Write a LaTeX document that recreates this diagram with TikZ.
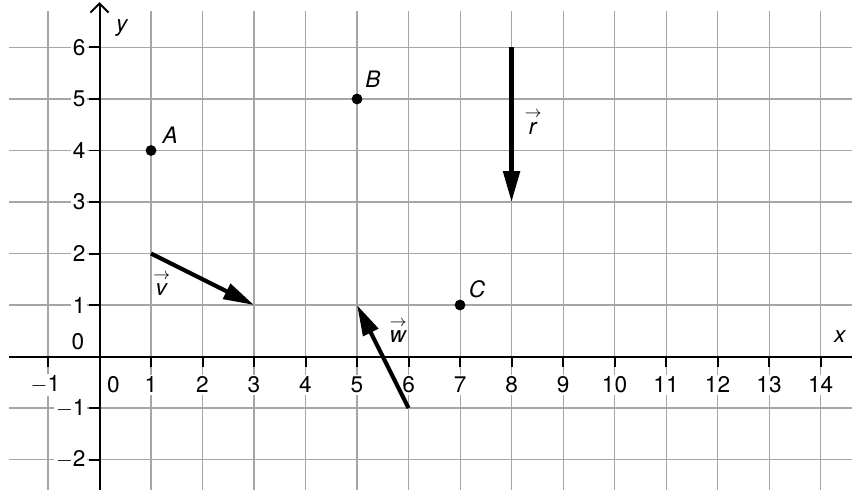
\documentclass[tikz,border=0pt]{standalone}
\usepackage{fontspec}
\setmainfont{TeX Gyre Heros}
\usepackage{amsmath}
\usetikzlibrary{arrows.meta}
\begin{document}
\begin{tikzpicture}[
  gridline/.style={draw=black!35, line width=0.6pt},
  axisline/.style={draw=black, line width=1.1pt},
  vecline/.style={draw=black, line width=2.3pt, -{Triangle[length=17pt,width=9pt]}},
  pt/.style={circle, fill=black, inner sep=0pt, minimum size=0.21cm},
  lbl/.style={font=\fontsize{12.5}{14}\selectfont, inner sep=1pt},
  num/.style={lbl, fill=white},
]
\useasboundingbox (-1.932,-2.592) rectangle (14.61,6.922);
\clip (-1.932,-2.592) rectangle (14.61,6.922);
% grid
\foreach \x in {-1,...,14} \draw[gridline] (\x,-2.592) -- (\x,6.71);
\foreach \y in {-2,...,6} \draw[gridline] (-1.757,\y) -- (14.61,\y);
% axes
\draw[axisline] (-1.757,0) -- (14.8,0);
\draw[axisline, -{Straight Barb[length=5pt,width=10pt]}] (0,-2.592) -- (0,6.88);
% ticks and labels
\foreach \x in {-1,1,2,...,14} \draw[axisline] (\x,0) -- (\x,-0.2);
\foreach \y in {-2,-1,1,2,...,6} \draw[axisline] (0,\y) -- (-0.2,\y);
\foreach \x in {1,...,14} \node[num] (xl\x) at (\x,-0.55) {\x};
\node[num] (xlm1) at (-1.05,-0.55) {$-$1};
\node[num] (xl0) at (0.27,-0.55) {0};
\foreach \y in {1,...,6} \node[num, anchor=east] (yl\y) at (-0.23,\y) {\y};
\foreach \y in {1,2} \node[num, anchor=east] (ylm\y) at (-0.23,-\y) {$-$\y};
\node[num] (yl0) at (-0.42,0.28) {0};
\node[lbl] (xlab) at (14.38,0.38) {\textit{x}};
\node[lbl] (ylab) at (0.44,6.38) {\textit{y}};
% points
\node[pt] (A) at (1,4) {};
\node[pt] (B) at (5,5) {};
\node[pt] (C) at (7,1) {};
\node[lbl] (Al) at (1.37,4.3) {\textit{A}};
\node[lbl] (Bl) at (5.31,5.39) {\textit{B}};
\node[lbl] (Cl) at (7.33,1.31) {\textit{C}};
% vectors
\coordinate (v1) at (1,2); \coordinate (v2) at (3,1);
\coordinate (w1) at (6,-1); \coordinate (w2) at (5,1);
\coordinate (r1) at (8,6); \coordinate (r2) at (8,3);
\draw[vecline] (v1) -- (v2);
\draw[vecline] (w1) -- (w2);
\draw[vecline] (r1) -- (r2);
\node[lbl] (vl) at (1.21,1.42) {$\overset{\rightarrow}{\text{\textit{v}}}$};
\node[lbl] (wl) at (5.80,0.50) {$\overset{\rightarrow}{\text{\textit{w}}}$};
\node[lbl] (rl) at (8.42,4.56) {$\overset{\rightarrow}{\text{\textit{r}}}$};
\end{tikzpicture}
\end{document}
